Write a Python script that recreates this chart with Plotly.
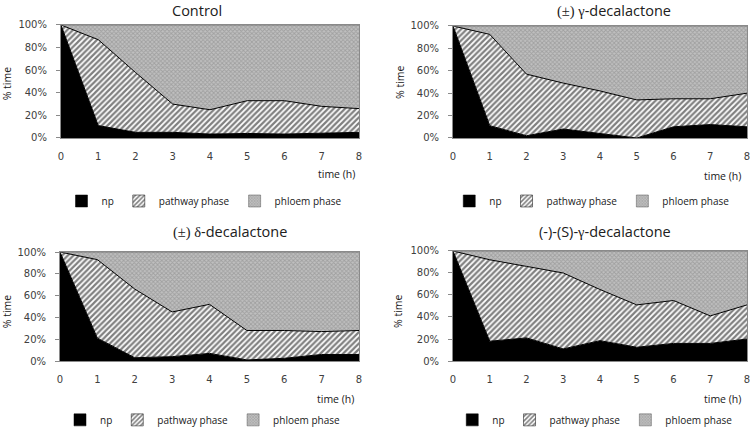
import plotly.graph_objects as go

hours = [0, 1, 2, 3, 4, 5, 6, 7, 8]
x_ticks = ["0", "1", "2", "3", "4", "5", "6", "7", "8"]
y_ticks = [0, 20, 40, 60, 80, 100]
series_names = ["np", "pathway phase", "phloem phase"]

# Panel 1: Control (% time)
control_np = [100, 11, 5, 5, 3.5, 4, 3.5, 4, 5]
control_pathway = [0, 76, 53, 25, 21.5, 29, 29.5, 24, 21]
control_phloem = [0, 13, 42, 70, 75, 67, 67, 72, 74]

# Panel 2: (±) γ-decalactone
gamma_np = [100, 11, 2, 8, 4, 0, 10, 12, 10]
gamma_pathway = [0, 81.5, 55, 41, 38, 34, 25, 23, 30]
gamma_phloem = [0, 7.5, 43, 51, 58, 66, 65, 65, 60]

# Panel 3: (±) δ-decalactone
delta_np = [100, 21, 3, 4, 7, 1, 2.5, 6, 6]
delta_pathway = [0, 72, 63, 41, 45, 27, 25.5, 21, 22]
delta_phloem = [0, 7, 34, 55, 48, 72, 72, 73, 72]

# Panel 4: (-)-(S)-γ-decalactone
sgamma_np = [100, 18, 21, 11, 18.5, 12.5, 16, 16, 20]
sgamma_pathway = [0, 74, 65, 69, 46.5, 38.5, 39, 25, 31]
sgamma_phloem = [0, 8, 14, 20, 35, 49, 45, 59, 49]

SERIF = "Liberation Serif"
titles = [
    "Control",
    f"<span style='font-family:{SERIF}'>(±) γ</span>-decalactone",
    f"<span style='font-family:{SERIF}'>(±) δ</span>-decalactone",
    f"(-)-(S)-<span style='font-family:{SERIF}'>γ</span>-decalactone",
]
panels = [
    (control_np, control_pathway, control_phloem),
    (gamma_np, gamma_pathway, gamma_phloem),
    (delta_np, delta_pathway, delta_phloem),
    (sgamma_np, sgamma_pathway, sgamma_phloem),
]

# layout geometry (paper fractions)
x_domains = [[0.0813, 0.4787], [0.604, 0.996], [0.080, 0.4787], [0.604, 0.996]]
y_domains = [[0.6776, 0.9416], [0.6776, 0.9393], [0.1565, 0.4112], [0.1565, 0.4136]]
# (x, y, yanchor)
title_pos = [(0.2627, 1.0, "top"), (0.8187, 1.0, "top"),
             (0.3067, 0.4590, "middle"), (0.8067, 0.4590, "middle")]
xlab_pos = [(0.4493, 0.5935), (0.9627, 0.5888), (0.4467, 0.0678), (0.9627, 0.0678)]
ylab_pos = [(0.0097, 0.806), (0.5333, 0.8084), (0.0097, 0.2734), (0.5307, 0.2734)]
legend_pos = [(0.272, 0.5304), (0.789, 0.5304), (0.270, 0.0190), (0.793, 0.0190)]

TICK_FONT = dict(family="DejaVu Sans", size=10, color="#404040")
TEXT_FONT = dict(family="Open Sans", size=10.5, color="#202020")

PHLOEM_PAT = dict(shape="x", size=3, solidity=0.5, fgcolor="#808080", bgcolor="#c0c0c0")
PATH_PAT = dict(shape="/", size=4, solidity=0.55, fgcolor="black", bgcolor="white")
styles = [
    dict(fillcolor="black", fillpattern=None, line=dict(color="black", width=1)),
    dict(fillcolor="white", fillpattern=PATH_PAT, line=dict(color="black", width=1)),
    dict(fillcolor="#b0b0b0", fillpattern=PHLOEM_PAT, line=dict(color="#7a7a7a", width=1)),
]
bar_markers = [
    dict(color="black", line=dict(color="black", width=0.5)),
    dict(color="white", line=dict(color="black", width=0.5),
         pattern=dict(shape="/", size=4, solidity=0.5, fgcolor="black", bgcolor="white")),
    dict(color="#b0b0b0", line=dict(color="#555", width=0.5),
         pattern=dict(shape="x", size=2.5, solidity=0.5, fgcolor="#808080", bgcolor="#c0c0c0")),
]

fig = go.Figure()
for i, vals in enumerate(panels):
    xa = "x" if i == 0 else f"x{i+1}"
    ya = "y" if i == 0 else f"y{i+1}"
    lg = "legend" if i == 0 else f"legend{i+1}"
    for j, (name, v) in enumerate(zip(series_names, vals)):
        st = styles[j]
        kw = dict(x=hours, y=v, name=name, mode="lines", stackgroup=f"s{i}",
                  fillcolor=st["fillcolor"], line=st["line"], xaxis=xa, yaxis=ya,
                  showlegend=False, hoverinfo="skip")
        if st["fillpattern"] is not None:
            kw["fillpattern"] = st["fillpattern"]
        fig.add_trace(go.Scatter(**kw))
    # legend entries (square swatches)
    for j, name in enumerate(series_names):
        fig.add_trace(go.Bar(x=[None], y=[None], name=name, marker=bar_markers[j],
                             xaxis=xa, yaxis=ya, legend=lg, showlegend=True))

layout = dict(
    width=750, height=428, margin=dict(l=0, r=0, t=0, b=0, autoexpand=False),
    paper_bgcolor="white", plot_bgcolor="white", showlegend=True,
    annotations=[],
)
for i in range(4):
    sfx = "" if i == 0 else str(i + 1)
    layout[f"xaxis{sfx}"] = dict(
        domain=x_domains[i], range=[0, 8], tickvals=hours, ticktext=x_ticks,
        showgrid=False, zeroline=False, showline=True, linecolor="#8a8a8a", linewidth=1,
        mirror=True, ticks="", ticklabelstandoff=9, tickfont=TICK_FONT,
        ticklabeloverflow="allow",
        anchor="y" + sfx, fixedrange=True, automargin=False,
    )
    layout[f"yaxis{sfx}"] = dict(
        domain=y_domains[i], range=[0, 100], tickvals=y_ticks,
        ticktext=[f"{t}%" for t in y_ticks],
        showgrid=False, zeroline=False, showline=True, linecolor="#8a8a8a", linewidth=1,
        mirror=True, ticks="outside", ticklen=4, tickcolor="#8a8a8a",
        ticklabelstandoff=7, tickfont=TICK_FONT, anchor="x" + sfx, fixedrange=True,
        automargin=False,
    )
    lx, ly = legend_pos[i]
    layout["legend" + sfx] = dict(
        orientation="h", x=lx, y=ly, xanchor="center", yanchor="middle",
        font=dict(family="Open Sans", size=10, color="#202020"),
        bgcolor="rgba(0,0,0,0)", itemwidth=30, traceorder="normal",
    )
    tx, ty, tya = title_pos[i]
    layout["annotations"].append(dict(
        text=titles[i], x=tx, y=ty, xref="paper", yref="paper", xanchor="center",
        yanchor=tya, showarrow=False, borderpad=0,
        font=dict(family="Open Sans", size=14.5, color="#202020")))
    ax_, ay_ = xlab_pos[i]
    layout["annotations"].append(dict(
        text="time (h)", x=ax_, y=ay_, xref="paper", yref="paper", xanchor="center",
        yanchor="middle", showarrow=False, font=TEXT_FONT))
    bx, by = ylab_pos[i]
    layout["annotations"].append(dict(
        text="% time", x=bx, y=by, xref="paper", yref="paper", xanchor="center",
        yanchor="middle", showarrow=False, textangle=-90, borderpad=0, font=TEXT_FONT))

fig.update_layout(**layout)
fig.write_html(
    "out.html",
    config={"displayModeBar": False},
    post_script="document.body.style.margin='0';document.body.style.padding='0';",
)
